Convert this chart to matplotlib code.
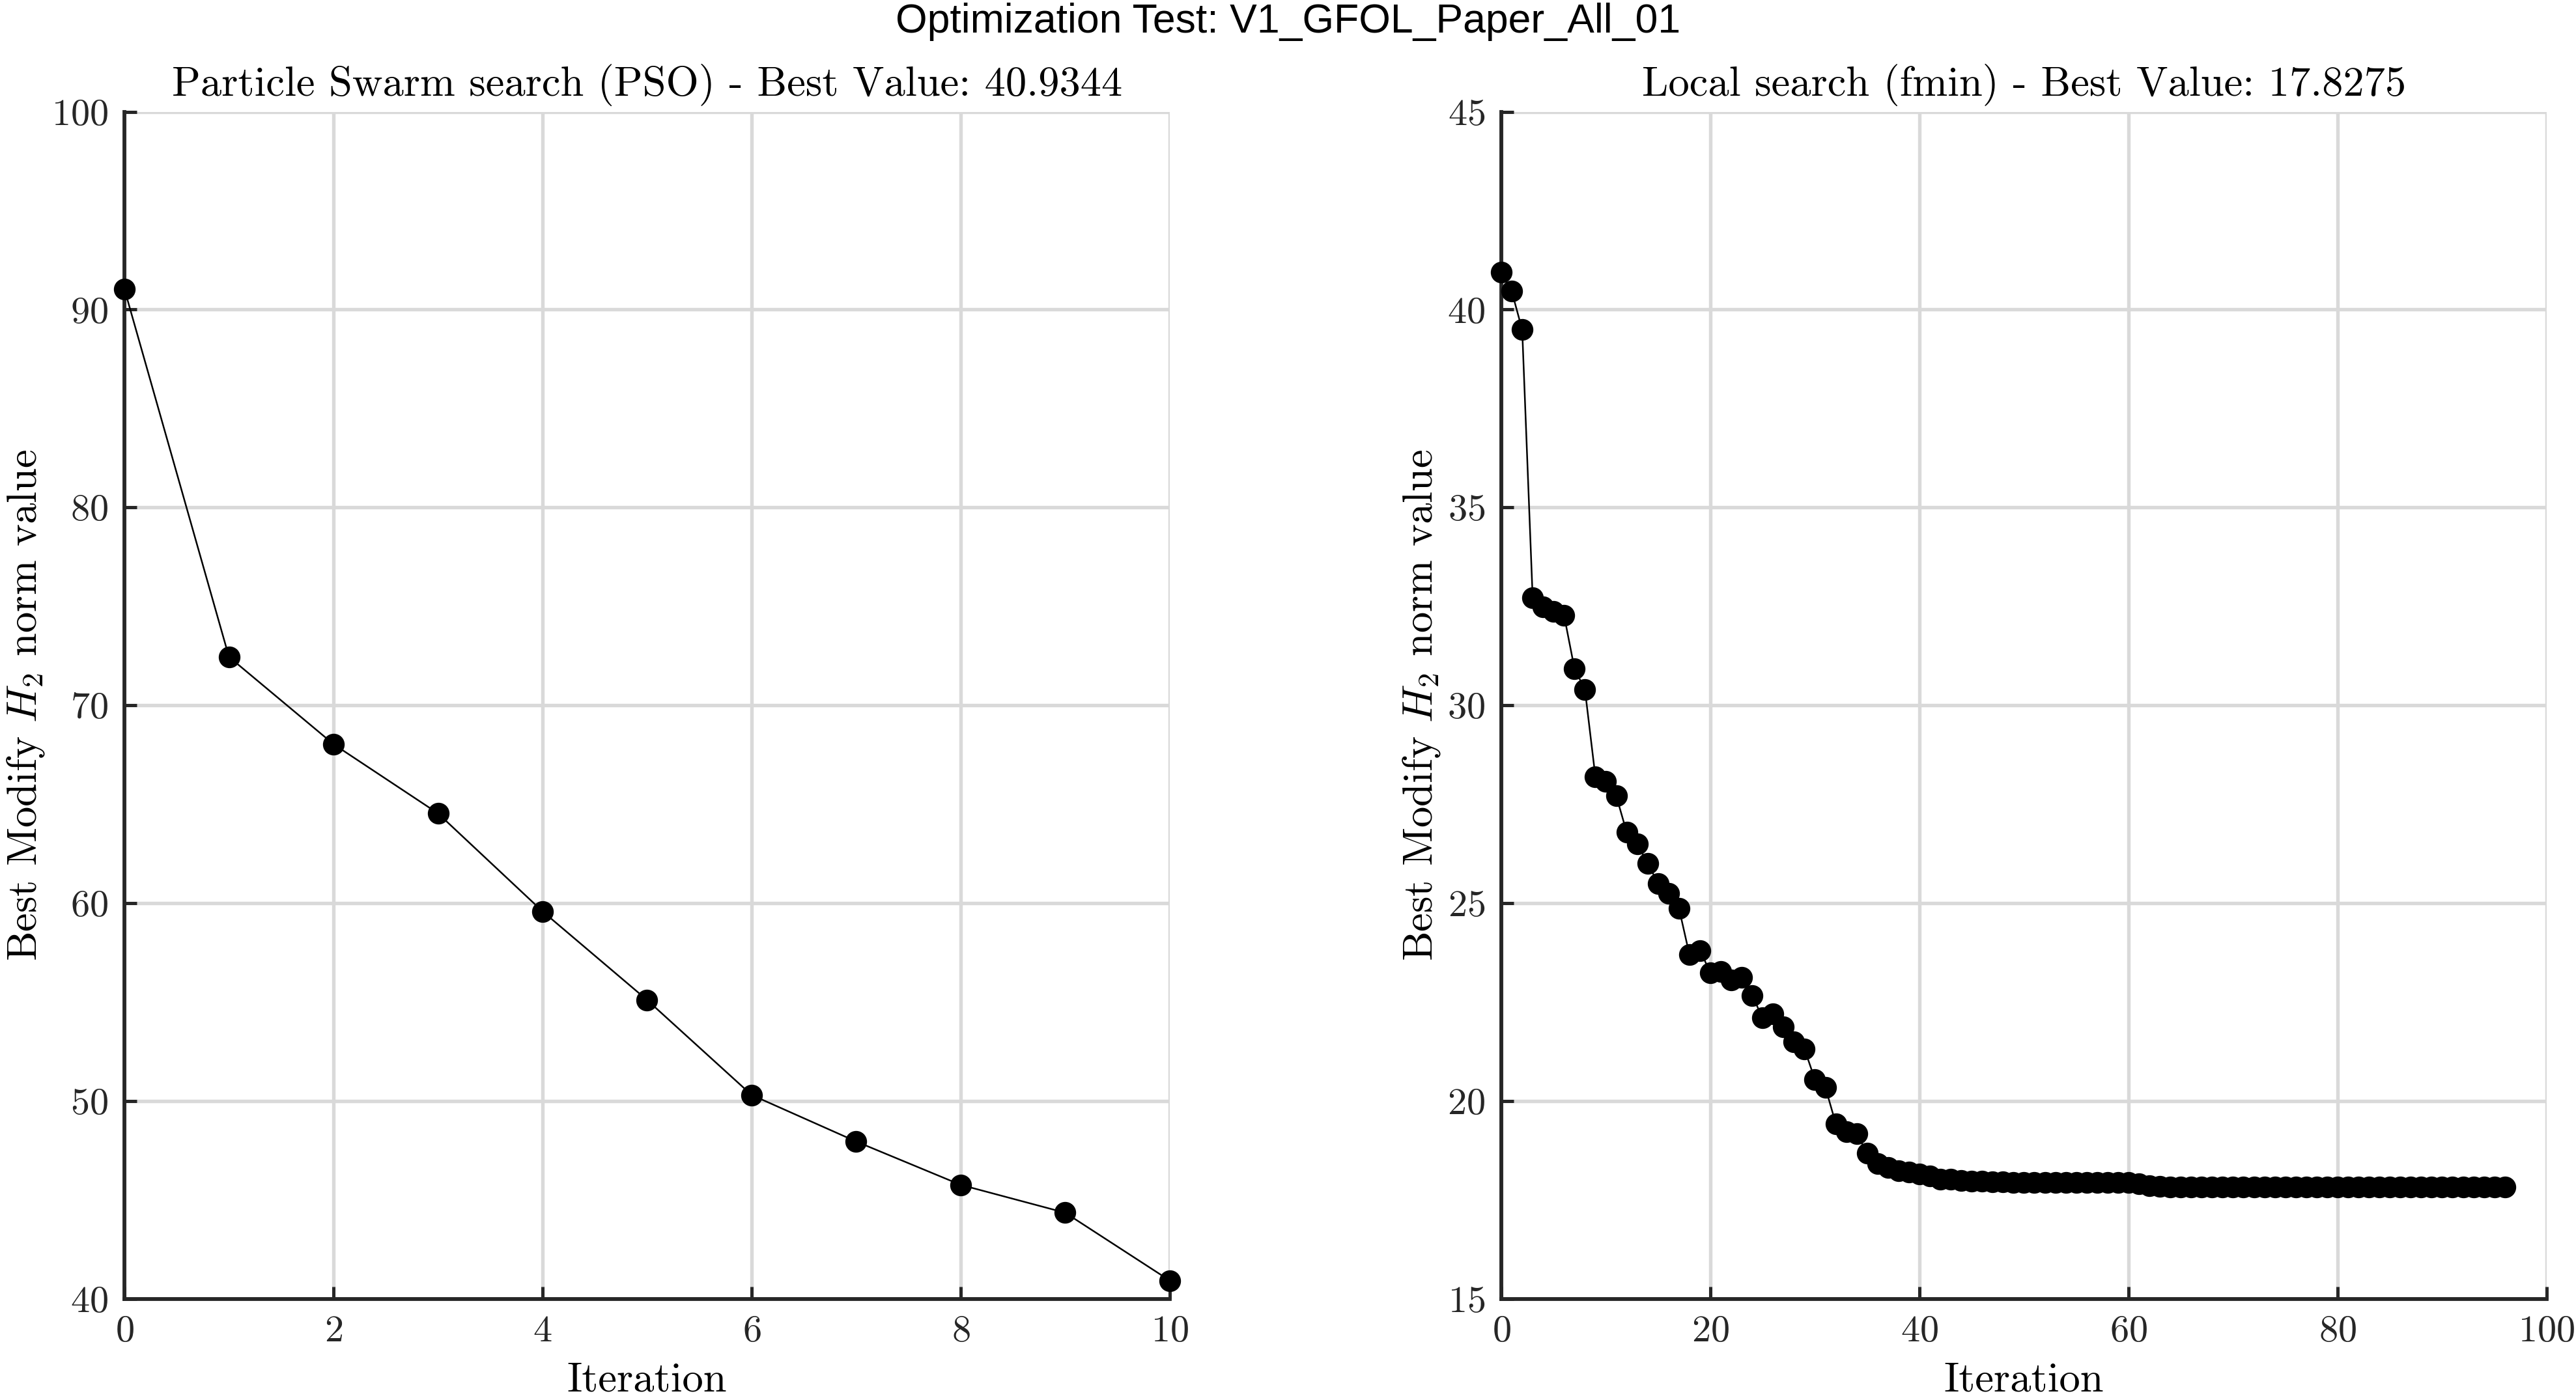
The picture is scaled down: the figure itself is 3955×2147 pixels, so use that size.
import matplotlib
matplotlib.use("Agg")
import matplotlib.pyplot as plt
import numpy as np

# PSO iterations and best values
pso_iter = list(range(11))
pso_best = [91.04, 72.45, 68.04, 64.54, 59.59, 55.11, 50.31, 47.96, 45.77, 44.36, 40.9344]

# fmin local search, iterations 0..96
fmin_best = [
    40.95, 40.46, 39.49, 32.72, 32.49, 32.37, 32.28, 30.93, 30.40, 28.20,
    28.08, 27.71, 26.79, 26.50, 26.01, 25.50, 25.25, 24.87, 23.70, 23.81,
    23.25, 23.28, 23.06, 23.12, 22.67, 22.10, 22.20, 21.88, 21.50, 21.32,
    20.55, 20.35, 19.43, 19.23, 19.18, 18.68, 18.42, 18.32, 18.24, 18.21,
    18.16, 18.11, 18.03, 18.02, 17.99, 17.98, 17.97, 17.96, 17.96, 17.95,
    17.95, 17.94, 17.94, 17.94, 17.94, 17.94, 17.94, 17.94, 17.94, 17.94,
    17.95, 17.91, 17.87, 17.84, 17.83, 17.83, 17.83, 17.83, 17.83, 17.83,
    17.83, 17.83, 17.83, 17.83, 17.835, 17.83, 17.83, 17.83, 17.83, 17.83,
    17.83, 17.83, 17.83, 17.83, 17.83, 17.83, 17.83, 17.83, 17.83, 17.83,
    17.83, 17.83, 17.83, 17.83, 17.83, 17.83, 17.8275,
]
fmin_iter = list(range(len(fmin_best)))

test_name = "V1_GFOL_Paper_All_01"

plt.rcParams['font.family'] = 'serif'
plt.rcParams['font.serif'] = ['cmr10']
plt.rcParams['mathtext.fontset'] = 'cm'
plt.rcParams['axes.formatter.use_mathtext'] = True

axis_col = '#262626'


def style_axes(ax, xlim, ylim, xticks, yticks):
    ax.set_xlim(xlim)
    ax.set_ylim(ylim)
    ax.set_xticks(xticks)
    ax.set_yticks(yticks)
    ax.spines['top'].set_visible(False)
    ax.spines['right'].set_visible(False)
    for s in ['left', 'bottom']:
        ax.spines[s].set_color(axis_col)
        ax.spines[s].set_linewidth(1.4)
    ax.tick_params(direction='in', length=4.5, width=1.2, color=axis_col,
                   labelsize=14, labelcolor=axis_col, pad=6)
    ax.grid(True, color='#d9d9d9', linewidth=1.3)
    ax.set_axisbelow(True)
    ax.set_xlabel('Iteration', fontsize=15.5, labelpad=5)
    ax.set_ylabel('Best Modify $H_2$ norm value', fontsize=15.5, labelpad=2)


fig = plt.figure(figsize=(3955 / 300, 2147 / 300), dpi=300)
ax1 = fig.add_axes([0.0483, 0.0708, 0.4058, 0.8493])
ax2 = fig.add_axes([0.5828, 0.0708, 0.4058, 0.8493])

ax1.plot(pso_iter, pso_best, '-o', color='black', linewidth=0.6,
         markersize=7, clip_on=False, zorder=3)
style_axes(ax1, (0, 10), (40, 100), range(0, 11, 2), range(40, 101, 10))
ax1.set_title('Particle Swarm search (PSO) - Best Value: %.4f' % pso_best[-1],
              fontsize=15.5, pad=6)

ax2.plot(fmin_iter, fmin_best, '-o', color='black', linewidth=0.6,
         markersize=7, clip_on=False, zorder=3)
style_axes(ax2, (0, 100), (15, 45), range(0, 101, 20), range(15, 46, 5))
ax2.set_title('Local search (fmin) - Best Value: %.4f' % fmin_best[-1],
              fontsize=15.5, pad=6)

fig.suptitle('Optimization Test: ' + test_name, family='Liberation Sans',
             fontsize=15, y=0.998, va='top')

fig.savefig('out.png', dpi=300, facecolor='white')
